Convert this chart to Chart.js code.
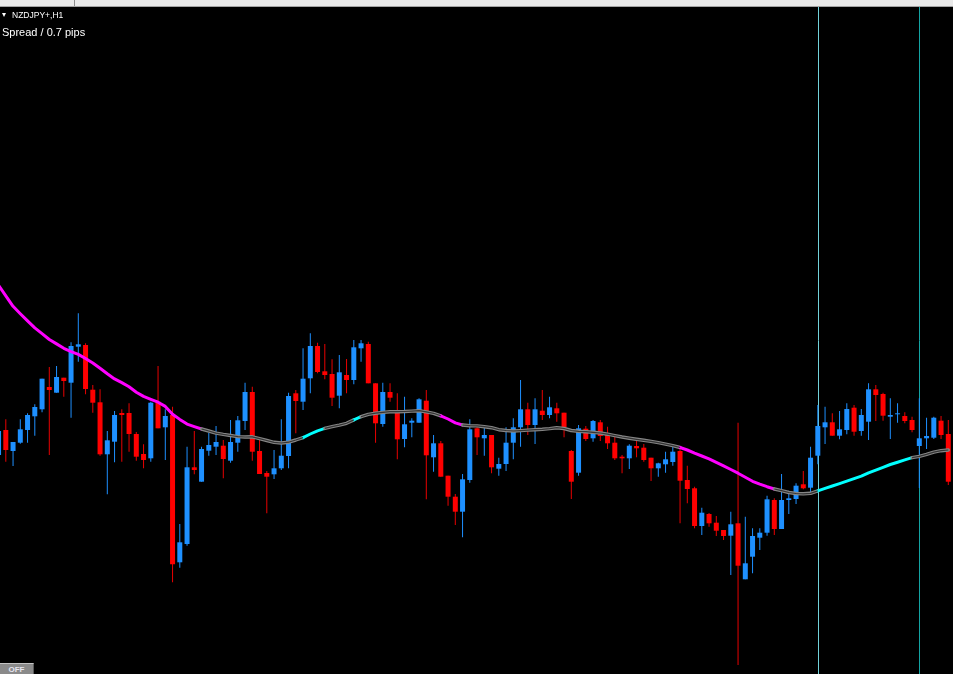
<!DOCTYPE html>
<html>
<head>
<meta charset="utf-8">
<title>NZDJPY+,H1</title>
<script src="https://cdn.jsdelivr.net/npm/chart.js@4.4.1/dist/chart.umd.min.js"></script>
<style>
html, body { margin: 0; padding: 0; background: #000; width: 953px; height: 674px; overflow: hidden; }
#tabs { position: absolute; left: 0; top: 0; width: 953px; height: 6px; background: #e9e9e9; border-bottom: 1px solid #a3a3a3; }
#tabs .sep { position: absolute; left: 74px; top: 0; width: 1px; height: 6px; background: #8c8c8c; }
#chart { position: absolute; left: 0; top: 7px; }
#arrow { position: absolute; left: 2px; top: 13px; width: 0; height: 0; border-left: 2.5px solid transparent; border-right: 2.5px solid transparent; border-top: 4px solid #fff; }
#symbol { position: absolute; left: 12px; top: 11px; font: 8.5px/9px "Liberation Sans", Arial, sans-serif; color: #fff; white-space: nowrap; }
#spread { position: absolute; left: 2px; top: 27px; font: 11px/11px "Liberation Sans", Arial, sans-serif; color: #fff; white-space: nowrap; }
#off { position: absolute; left: 0; top: 663px; width: 33px; height: 11px; background: #8a8a8a; border-top: 1px solid #c4c4c4; border-right: 1px solid #5a5a5a; color: #e6e6f0; font: bold 8px/12px "Liberation Sans", Arial, sans-serif; text-align: center; overflow: hidden; }
</style>
</head>
<body>
<div id="tabs"><div class="sep"></div></div>
<canvas id="chart" width="953" height="667"></canvas>
<div id="arrow"></div>
<div id="symbol">NZDJPY+,H1</div>
<div id="spread">Spread / 0.7 pips</div>
<div id="off">OFF</div>
<script>
// hourly bars, oldest first (the first one is cut by the left edge)
var open = [
    90.450, 90.700, 90.490, 90.573, 90.700, 90.837, 90.907, 91.130, 91.073, 91.223,
    91.173, 91.533, 91.550, 91.103, 90.977, 90.457, 90.583, 90.870, 90.870, 90.660,
    90.460, 90.417, 90.983, 90.727, 90.850, 89.377, 89.560, 90.327, 90.183, 90.493,
    90.533, 90.543, 90.393, 90.573, 90.790, 91.080, 90.490, 90.270, 90.257, 90.317,
    90.440, 91.067, 90.983, 91.217, 91.540, 91.287, 91.260, 91.043, 91.250, 91.200,
    91.517, 91.560, 91.167, 90.760, 91.080, 90.900, 90.610, 90.773, 90.773, 90.993,
    90.427, 90.567, 90.243, 90.033, 89.883, 90.200, 90.717, 90.617, 90.650, 90.313,
    90.360, 90.573, 90.727, 90.907, 90.750, 90.893, 90.850, 90.917, 90.873, 90.490,
    90.273, 90.713, 90.617, 90.777, 90.650, 90.573, 90.433, 90.417, 90.540, 90.523,
    90.423, 90.317, 90.357, 90.380, 90.490, 90.200, 90.117, 89.740, 89.860, 89.773,
    89.700, 89.643, 89.767, 89.207, 89.433, 89.623, 89.673, 90.000, 89.710, 90.000,
    90.010, 90.157, 90.123, 90.443, 90.727, 90.777, 90.643, 90.700, 90.923, 90.690,
    90.783, 91.107, 91.060, 90.833, 90.857, 90.840, 90.800, 90.540, 90.617, 90.623,
    90.793, 90.660
];
var high = [
    90.720, 90.807, 90.580, 90.807, 90.867, 90.957, 91.213, 91.330, 91.340, 91.223,
    91.577, 91.867, 91.567, 91.150, 91.107, 90.690, 90.890, 90.907, 90.967, 90.680,
    90.557, 90.983, 91.340, 90.907, 90.933, 89.760, 90.533, 90.690, 90.533, 90.673,
    90.740, 90.600, 90.800, 90.840, 91.173, 91.133, 90.617, 90.290, 90.500, 90.807,
    91.073, 91.100, 91.517, 91.667, 91.573, 91.560, 91.407, 91.450, 91.410, 91.600,
    91.600, 91.583, 91.167, 91.173, 91.167, 91.067, 91.033, 90.817, 91.017, 91.100,
    90.650, 90.590, 90.243, 90.060, 90.260, 90.807, 90.733, 90.727, 90.650, 90.423,
    90.727, 90.817, 91.200, 90.973, 91.017, 91.100, 91.033, 90.973, 90.873, 90.500,
    90.750, 90.740, 90.800, 90.800, 90.733, 90.650, 90.450, 90.557, 90.593, 90.560,
    90.423, 90.373, 90.483, 90.540, 90.507, 90.343, 90.133, 89.923, 89.870, 89.840,
    89.700, 89.883, 90.773, 89.833, 89.717, 89.717, 90.043, 90.017, 90.260, 90.093,
    90.167, 90.290, 90.533, 90.950, 90.933, 90.867, 90.890, 90.967, 90.950, 90.910,
    91.167, 91.150, 91.073, 91.017, 90.967, 90.877, 90.833, 91.017, 90.823, 90.833,
    90.840, 90.800
];
var low = [
    90.420, 90.383, 90.340, 90.563, 90.573, 90.643, 90.877, 90.450, 91.073, 91.033,
    90.823, 91.383, 91.057, 90.873, 90.443, 90.057, 90.377, 90.383, 90.483, 90.393,
    90.317, 90.383, 90.717, 90.400, 89.177, 89.323, 89.543, 90.257, 90.183, 90.443,
    90.450, 90.217, 90.373, 90.483, 90.700, 90.393, 90.260, 89.867, 90.210, 90.300,
    90.317, 90.667, 90.900, 91.067, 91.267, 91.207, 90.940, 90.917, 91.067, 91.157,
    91.383, 91.167, 90.573, 90.733, 90.983, 90.407, 90.527, 90.627, 90.773, 90.007,
    90.283, 90.233, 89.943, 89.750, 89.627, 90.173, 90.450, 90.443, 90.267, 90.243,
    90.290, 90.407, 90.533, 90.650, 90.560, 90.800, 90.817, 90.783, 90.627, 90.010,
    90.243, 90.590, 90.583, 90.590, 90.510, 90.400, 90.267, 90.310, 90.427, 90.383,
    90.190, 90.233, 90.273, 90.343, 89.767, 89.967, 89.717, 89.650, 89.733, 89.640,
    89.600, 89.250, 88.350, 89.207, 89.267, 89.500, 89.643, 89.650, 89.710, 89.860,
    89.960, 90.107, 90.073, 90.357, 90.560, 90.643, 90.607, 90.657, 90.643, 90.643,
    90.600, 90.790, 90.793, 90.610, 90.773, 90.767, 90.677, 90.120, 90.510, 90.610,
    90.610, 90.150
];
var close = [
    90.690, 90.500, 90.580, 90.707, 90.850, 90.930, 91.213, 91.100, 91.230, 91.190,
    91.540, 91.557, 91.110, 90.973, 90.457, 90.597, 90.850, 90.850, 90.660, 90.433,
    90.400, 90.973, 90.717, 90.840, 89.357, 89.577, 90.327, 90.300, 90.510, 90.550,
    90.580, 90.410, 90.580, 90.797, 91.080, 90.483, 90.260, 90.233, 90.317, 90.443,
    91.040, 90.990, 91.213, 91.540, 91.280, 91.250, 91.023, 91.277, 91.200, 91.527,
    91.567, 91.167, 90.767, 91.080, 91.023, 90.607, 90.757, 90.793, 91.007, 90.447,
    90.567, 90.233, 90.033, 89.883, 90.207, 90.707, 90.627, 90.650, 90.327, 90.360,
    90.573, 90.727, 90.907, 90.750, 90.907, 90.850, 90.927, 90.867, 90.727, 90.183,
    90.717, 90.610, 90.790, 90.640, 90.567, 90.417, 90.417, 90.543, 90.517, 90.400,
    90.317, 90.367, 90.407, 90.483, 90.193, 90.110, 89.740, 89.873, 89.767, 89.693,
    89.640, 89.757, 89.343, 89.367, 89.640, 89.673, 90.007, 89.710, 90.000, 90.017,
    90.143, 90.117, 90.423, 90.740, 90.777, 90.643, 90.707, 90.910, 90.683, 90.850,
    91.107, 91.050, 90.843, 90.850, 90.867, 90.790, 90.700, 90.617, 90.640, 90.823,
    90.650, 90.183
];
// moving average, one value per bar
var ma = [
    92.148, 92.042, 91.937, 91.863, 91.791, 91.721, 91.663, 91.605, 91.561, 91.517,
    91.484, 91.456, 91.415, 91.370, 91.317, 91.262, 91.211, 91.174, 91.132, 91.078,
    91.036, 91.007, 90.978, 90.936, 90.858, 90.806, 90.759, 90.734, 90.710, 90.690,
    90.669, 90.656, 90.645, 90.634, 90.630, 90.632, 90.613, 90.595, 90.577, 90.570,
    90.578, 90.600, 90.624, 90.660, 90.692, 90.716, 90.733, 90.749, 90.767, 90.801,
    90.833, 90.856, 90.868, 90.876, 90.883, 90.883, 90.885, 90.889, 90.893, 90.881,
    90.867, 90.842, 90.810, 90.771, 90.750, 90.743, 90.741, 90.733, 90.723, 90.703,
    90.695, 90.690, 90.694, 90.699, 90.703, 90.707, 90.714, 90.723, 90.715, 90.695,
    90.687, 90.683, 90.677, 90.670, 90.658, 90.644, 90.630, 90.618, 90.607, 90.597,
    90.586, 90.573, 90.559, 90.543, 90.525, 90.500, 90.469, 90.440, 90.411, 90.376,
    90.341, 90.305, 90.268, 90.228, 90.187, 90.158, 90.133, 90.110, 90.093, 90.075,
    90.065, 90.062, 90.067, 90.091, 90.116, 90.140, 90.164, 90.189, 90.214, 90.238,
    90.271, 90.299, 90.327, 90.355, 90.378, 90.401, 90.424, 90.436, 90.456, 90.479,
    90.493, 90.500
];
// colour state of the MA, as runs of bars
var maTrend = [
    ['down', 29], ['flat', 14], ['up', 3], ['flat', 4], ['up', 1], ['flat', 11],
    ['down', 3], ['flat', 30], ['down', 13], ['flat', 6], ['up', 13], ['flat', 5]
];
// bars marked by vertical lines
var markedBars = [113, 127];

var trendAt = [];
maTrend.forEach(function(run) {
    for (var j = 0; j < run[1]; j++) trendAt.push(run[0]);
});

var trendColors = { down: '#ff00ff', up: '#00ffff', flat: '#858585' };

var bodies = open.map(function(o, k) { return { x: k, y: [o, close[k]] }; });
var wicks = open.map(function(o, k) { return { x: k, y: [low[k], high[k]] }; });
var maPoints = ma.map(function(v, k) { return { x: k, y: v }; });
var bodyColors = open.map(function(o, k) { return close[k] >= o ? '#1e90ff' : '#ff0000'; });
var wickColors = open.map(function(o, k) { return close[k] >= o ? '#1e90ff' : '#e80000'; });

var markerLines = {
    id: 'markerLines',
    beforeDatasetsDraw: function(chart) {
        var ctx = chart.ctx;
        var area = chart.chartArea;
        var colors = ['#72d2da', '#14a3a3'];
        ctx.save();
        markedBars.forEach(function(k, n) {
            var x = Math.round(chart.scales.x.getPixelForValue(k)) + 0.5;
            ctx.strokeStyle = colors[n];
            ctx.lineWidth = 1;
            ctx.beginPath();
            ctx.moveTo(x, area.top);
            ctx.lineTo(x, area.bottom);
            ctx.stroke();
        });
        ctx.restore();
    }
};

new Chart(document.getElementById('chart'), {
    type: 'bar',
    data: {
        datasets: [
            {
                type: 'line',
                data: maPoints,
                order: 0,
                pointRadius: 0,
                borderWidth: 1.2,
                borderColor: 'rgba(0,0,0,0)',
                segment: {
                    borderColor: function(c) { return trendAt[c.p1DataIndex] === 'flat' ? '#333333' : 'rgba(0,0,0,0)'; }
                }
            },
            {
                type: 'line',
                data: maPoints,
                order: 1,
                pointRadius: 0,
                borderWidth: 3,
                borderJoinStyle: 'round',
                borderCapStyle: 'round',
                segment: {
                    borderColor: function(c) { return trendColors[trendAt[c.p1DataIndex]]; },
                    borderWidth: function(c) { return trendAt[c.p1DataIndex] === 'flat' ? 3.4 : 3; }
                }
            },
            {
                data: bodies,
                order: 2,
                backgroundColor: bodyColors,
                barThickness: 5,
                grouped: false,
                minBarLength: 1,
                inflateAmount: 0,
                borderWidth: 0
            },
            {
                data: wicks,
                order: 3,
                backgroundColor: wickColors,
                barThickness: 1,
                grouped: false,
                inflateAmount: 0,
                borderWidth: 0
            }
        ]
    },
    options: {
        responsive: false,
        animation: false,
        devicePixelRatio: 1,
        events: [],
        layout: { padding: 0 },
        plugins: { legend: { display: false }, tooltip: { enabled: false } },
        scales: {
            x: { type: 'linear', min: 0.2, max: 131.648, offset: false, display: false },
            y: { min: 88.26, max: 94.93, beginAtZero: false, display: false }
        }
    },
    plugins: [markerLines]
});
</script>
</body>
</html>
